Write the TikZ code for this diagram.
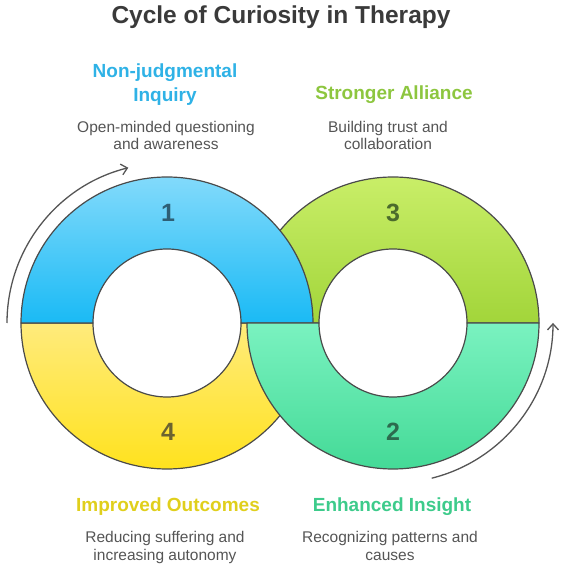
\documentclass[tikz,border=0pt]{standalone}
\usepackage{fontspec}
\setmainfont{Liberation Sans}
\usetikzlibrary{arrows.meta}
\definecolor{ringline}{HTML}{4A4A4A}
\definecolor{arrowgray}{HTML}{555555}
\definecolor{titlegray}{HTML}{3A3A3A}
\definecolor{descgray}{HTML}{555555}
\definecolor{blueT}{HTML}{82DAFB}
\definecolor{blueB}{HTML}{1ABAF5}
\definecolor{yellowT}{HTML}{FFEB7C}
\definecolor{yellowB}{HTML}{FFE21E}
\definecolor{limeT}{HTML}{C9EE68}
\definecolor{limeB}{HTML}{A2D53A}
\definecolor{tealT}{HTML}{7AF2C0}
\definecolor{tealB}{HTML}{44DA97}
\definecolor{headBlue}{HTML}{2FB2E6}
\definecolor{headLime}{HTML}{8DC63F}
\definecolor{headYellow}{HTML}{E0CF1C}
\definecolor{headGreen}{HTML}{3DCB8B}
\definecolor{numBlue}{HTML}{2E5F75}
\definecolor{numLime}{HTML}{4B6B2C}
\definecolor{numTeal}{HTML}{2C6B4E}
\definecolor{numYellow}{HTML}{6B6330}
\begin{document}
\begin{tikzpicture}[x=1pt,y=1pt,
  ring/.style={draw=ringline, line width=1.2pt, line join=round},
  cyclearrow/.style={draw=arrowgray, line width=1.3pt, -{Straight Barb[length=6pt,width=11pt]}},
  numlabel/.style={font=\fontsize{25}{28}\selectfont\bfseries},
  heading/.style={font=\fontsize{19}{24}\selectfont\bfseries, align=center, anchor=base},
  desc/.style={font=\fontsize{15.5}{17.5}\selectfont, text=descgray, align=center, anchor=base},
]
\useasboundingbox (0,0) rectangle (566,568);
\coordinate (L) at (167,245);
\coordinate (R) at (393,245);
% lower layer: lime top (3) and yellow bottom (4)
\path[ring, top color=limeT, bottom color=limeB]
  (R) ++(146,0) arc[start angle=0, end angle=180, radius=146]
  -- ++(72,0) arc[start angle=180, end angle=0, radius=74] -- cycle;
\path[ring, top color=yellowT, bottom color=yellowB]
  (L) ++(146,0) arc[start angle=0, end angle=-180, radius=146]
  -- ++(72,0) arc[start angle=180, end angle=360, radius=74] -- cycle;
% upper layer: blue top (1) and teal bottom (2)
\path[ring, top color=blueT, bottom color=blueB]
  (L) ++(146,0) arc[start angle=0, end angle=180, radius=146]
  -- ++(72,0) arc[start angle=180, end angle=0, radius=74] -- cycle;
\path[ring, top color=tealT, bottom color=tealB]
  (R) ++(146,0) arc[start angle=0, end angle=-180, radius=146]
  -- ++(72,0) arc[start angle=180, end angle=360, radius=74] -- cycle;
% numbers
\node[numlabel, text=numBlue] (n1) at (168,355) {1};
\node[numlabel, text=numTeal] (n2) at (393,136) {2};
\node[numlabel, text=numLime] (n3) at (393,355) {3};
\node[numlabel, text=numYellow] (n4) at (168,136) {4};
% cycle arrows
\coordinate (a1s) at (7,245);
\draw[cyclearrow] (a1s) arc[start angle=180, end angle=104, radius=160];
\coordinate (a2s) at (431.7,89.8);
\draw[cyclearrow] (a2s) arc[start angle=-76, end angle=0, radius=160];
% texts
\node[font=\fontsize{24.5}{28}\selectfont\bfseries, text=titlegray, anchor=base] (title) at (281,544) {Cycle of Curiosity in Therapy};
\node[heading, text=headBlue] (h1) at (165,466) {Non-judgmental\\Inquiry};
\node[desc] (d1) at (166,418) {Open-minded questioning\\and awareness};
\node[heading, text=headLime] (h3) at (394,468) {Stronger Alliance};
\node[desc] (d3) at (388,418) {Building trust and\\collaboration};
\node[heading, text=headYellow] (h4) at (168,56) {Improved Outcomes};
\node[desc] (d4) at (165,8) {Reducing suffering and\\increasing autonomy};
\node[heading, text=headGreen] (h2) at (392,56) {Enhanced Insight};
\node[desc] (d2) at (390,8) {Recognizing patterns and\\causes};
\end{tikzpicture}
\end{document}
